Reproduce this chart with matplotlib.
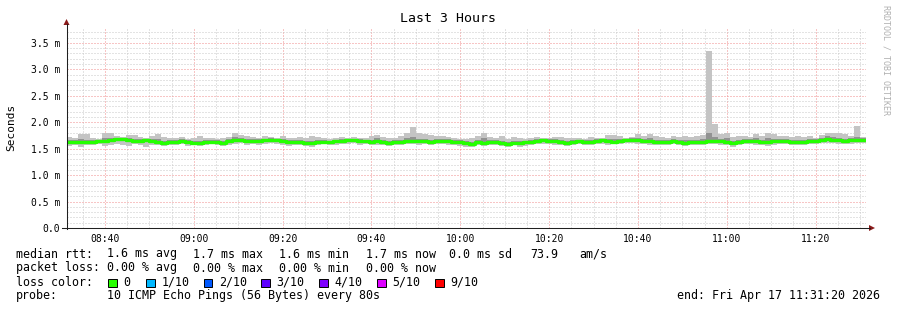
import matplotlib
matplotlib.use("Agg")
import numpy as np
import matplotlib.pyplot as plt
from matplotlib.patches import Rectangle, Polygon
from matplotlib.lines import Line2D
from matplotlib.ticker import FixedLocator, MultipleLocator, FuncFormatter

plt.rcParams['font.family'] = ['DejaVu Sans Mono']

# time in minutes since midnight, 80 s steps over 3 hours
t_start = 8 * 60 + 31 + 20 / 60.0
step_min = 80 / 60.0

# median rtt (ms) per step
median = [1.62, 1.62, 1.63, 1.62, 1.63, 1.64, 1.65, 1.66, 1.68,
          1.68, 1.66, 1.65, 1.64, 1.66, 1.65, 1.63, 1.61, 1.62,
          1.63, 1.64, 1.62, 1.61, 1.60, 1.62, 1.63, 1.62, 1.61,
          1.64, 1.66, 1.67, 1.65, 1.64, 1.65, 1.66, 1.67, 1.66,
          1.64, 1.62, 1.63, 1.62, 1.61, 1.60, 1.62, 1.63, 1.62,
          1.64, 1.65, 1.66, 1.66, 1.65, 1.64, 1.63, 1.64, 1.62,
          1.61, 1.62, 1.63, 1.64, 1.65, 1.64, 1.64, 1.63, 1.64,
          1.65, 1.64, 1.63, 1.62, 1.60, 1.59, 1.62, 1.61, 1.62,
          1.63, 1.61, 1.59, 1.61, 1.60, 1.62, 1.63, 1.64, 1.66,
          1.65, 1.64, 1.62, 1.61, 1.63, 1.64, 1.62, 1.63, 1.65,
          1.66, 1.64, 1.63, 1.65, 1.66, 1.67, 1.66, 1.65, 1.64,
          1.63, 1.62, 1.63, 1.64, 1.62, 1.61, 1.63, 1.62, 1.63,
          1.64, 1.65, 1.64, 1.63, 1.60, 1.62, 1.64, 1.65, 1.64,
          1.63, 1.62, 1.64, 1.65, 1.64, 1.63, 1.62, 1.63, 1.64,
          1.65, 1.67, 1.68, 1.67, 1.66, 1.65, 1.66, 1.67, 1.67]

# smoke: lowest ping, lower inner, upper inner, highest ping (ms)
ping_min = [1.55, 1.56, 1.54, 1.57, 1.56, 1.58, 1.55, 1.57, 1.59,
            1.56, 1.55, 1.58, 1.56, 1.54, 1.57, 1.56, 1.55, 1.57,
            1.56, 1.58, 1.55, 1.56, 1.55, 1.57, 1.58, 1.56, 1.55,
            1.57, 1.59, 1.60, 1.56, 1.58, 1.57, 1.59, 1.60, 1.58,
            1.57, 1.55, 1.56, 1.57, 1.55, 1.54, 1.56, 1.58, 1.56,
            1.57, 1.59, 1.58, 1.60, 1.57, 1.58, 1.56, 1.57, 1.56,
            1.55, 1.57, 1.56, 1.58, 1.59, 1.57, 1.58, 1.56, 1.58,
            1.59, 1.57, 1.56, 1.55, 1.54, 1.53, 1.56, 1.55, 1.57,
            1.56, 1.55, 1.53, 1.56, 1.54, 1.55, 1.57, 1.58, 1.59,
            1.58, 1.57, 1.56, 1.55, 1.57, 1.58, 1.56, 1.57, 1.58,
            1.59, 1.57, 1.58, 1.59, 1.60, 1.60, 1.59, 1.58, 1.57,
            1.57, 1.56, 1.57, 1.58, 1.56, 1.55, 1.57, 1.56, 1.57,
            1.58, 1.58, 1.57, 1.56, 1.54, 1.56, 1.58, 1.59, 1.57,
            1.56, 1.55, 1.57, 1.59, 1.58, 1.57, 1.56, 1.57, 1.58,
            1.59, 1.60, 1.61, 1.60, 1.59, 1.58, 1.59, 1.60, 1.60]

ping_lo = [1.59, 1.60, 1.60, 1.60, 1.61, 1.62, 1.62, 1.63, 1.64,
           1.65, 1.63, 1.62, 1.61, 1.62, 1.62, 1.60, 1.58, 1.60,
           1.60, 1.61, 1.59, 1.59, 1.58, 1.60, 1.61, 1.60, 1.58,
           1.62, 1.63, 1.64, 1.62, 1.62, 1.62, 1.63, 1.64, 1.63,
           1.61, 1.59, 1.60, 1.60, 1.58, 1.57, 1.59, 1.60, 1.59,
           1.61, 1.62, 1.63, 1.63, 1.62, 1.61, 1.60, 1.61, 1.59,
           1.58, 1.59, 1.60, 1.61, 1.62, 1.61, 1.61, 1.60, 1.61,
           1.62, 1.61, 1.60, 1.59, 1.57, 1.56, 1.59, 1.58, 1.59,
           1.60, 1.58, 1.56, 1.58, 1.57, 1.59, 1.60, 1.61, 1.63,
           1.62, 1.61, 1.59, 1.58, 1.60, 1.61, 1.59, 1.60, 1.62,
           1.63, 1.61, 1.60, 1.62, 1.63, 1.64, 1.63, 1.62, 1.61,
           1.60, 1.59, 1.60, 1.61, 1.59, 1.58, 1.60, 1.59, 1.60,
           1.61, 1.62, 1.61, 1.60, 1.57, 1.59, 1.61, 1.62, 1.61,
           1.60, 1.59, 1.61, 1.62, 1.61, 1.60, 1.59, 1.60, 1.61,
           1.62, 1.64, 1.65, 1.64, 1.63, 1.62, 1.63, 1.64, 1.64]

ping_hi = [1.66, 1.67, 1.68, 1.66, 1.66, 1.67, 1.70, 1.70, 1.71,
           1.71, 1.70, 1.69, 1.68, 1.69, 1.69, 1.68, 1.65, 1.66,
           1.66, 1.68, 1.66, 1.65, 1.64, 1.66, 1.67, 1.66, 1.65,
           1.68, 1.72, 1.71, 1.69, 1.68, 1.68, 1.69, 1.70, 1.69,
           1.69, 1.66, 1.67, 1.66, 1.65, 1.65, 1.66, 1.66, 1.65,
           1.67, 1.68, 1.69, 1.69, 1.68, 1.67, 1.67, 1.70, 1.66,
           1.65, 1.66, 1.67, 1.70, 1.72, 1.69, 1.69, 1.67, 1.68,
           1.69, 1.68, 1.67, 1.66, 1.64, 1.63, 1.66, 1.70, 1.66,
           1.67, 1.65, 1.63, 1.65, 1.64, 1.65, 1.67, 1.68, 1.69,
           1.68, 1.68, 1.66, 1.65, 1.66, 1.67, 1.66, 1.67, 1.68,
           1.69, 1.69, 1.68, 1.69, 1.69, 1.70, 1.71, 1.69, 1.70,
           1.67, 1.66, 1.67, 1.68, 1.66, 1.66, 1.67, 1.66, 1.68,
           1.80, 1.72, 1.69, 1.70, 1.65, 1.66, 1.68, 1.69, 1.70,
           1.67, 1.70, 1.69, 1.69, 1.68, 1.67, 1.66, 1.67, 1.68,
           1.69, 1.71, 1.73, 1.72, 1.71, 1.69, 1.70, 1.72, 1.71]

ping_max = [1.72, 1.71, 1.78, 1.77, 1.70, 1.69, 1.80, 1.79, 1.74,
            1.72, 1.76, 1.75, 1.72, 1.71, 1.73, 1.77, 1.72, 1.71,
            1.70, 1.72, 1.69, 1.70, 1.73, 1.70, 1.71, 1.69, 1.70,
            1.72, 1.80, 1.75, 1.73, 1.72, 1.71, 1.73, 1.72, 1.71,
            1.74, 1.70, 1.71, 1.72, 1.70, 1.73, 1.72, 1.70, 1.69,
            1.71, 1.72, 1.71, 1.72, 1.70, 1.71, 1.74, 1.75, 1.72,
            1.70, 1.71, 1.73, 1.80, 1.90, 1.80, 1.78, 1.75, 1.74,
            1.73, 1.72, 1.71, 1.69, 1.68, 1.70, 1.73, 1.80, 1.72,
            1.70, 1.74, 1.69, 1.72, 1.71, 1.68, 1.70, 1.72, 1.71,
            1.70, 1.72, 1.72, 1.71, 1.70, 1.71, 1.69, 1.72, 1.70,
            1.71, 1.76, 1.76, 1.73, 1.71, 1.72, 1.78, 1.73, 1.77,
            1.73, 1.72, 1.71, 1.73, 1.72, 1.74, 1.72, 1.73, 1.76,
            3.35, 1.97, 1.78, 1.80, 1.72, 1.73, 1.74, 1.72, 1.78,
            1.73, 1.80, 1.77, 1.74, 1.73, 1.72, 1.73, 1.72, 1.74,
            1.71, 1.75, 1.80, 1.80, 1.80, 1.77, 1.74, 1.93, 1.72]

x_ticks = [520, 540, 560, 580, 600, 620, 640, 660, 680]
y_ticks = [0.0, 0.5, 1.0, 1.5, 2.0, 2.5, 3.0, 3.5]

loss_labels = ["0", "1/10", "2/10", "3/10", "4/10", "5/10", "9/10"]
loss_colors = ["#26ff00", "#00b8ff", "#0059ff", "#5e00ff", "#7e00ff", "#dd00ff", "#ff0000"]

W, H = 897, 310
def fx(px):
    return px / W
def fy(py):
    return 1 - py / H

fig = plt.figure(figsize=(W / 100, H / 100), dpi=100)
fig.patch.set_facecolor("white")
ax = fig.add_axes([fx(66.5), fy(228), (866 - 66.5) / W, 200 / H])

n = len(median)
edges = t_start + np.arange(n + 1) * step_min

def ext(a):
    a = np.asarray(a)
    return np.append(a, a[-1])

# smoke
ax.fill_between(edges, ext(ping_min), ext(ping_max), step="post", color="#c4c4c4", lw=0, zorder=2)
ax.fill_between(edges, ext(ping_lo), ext(ping_hi), step="post", color="#929292", lw=0, zorder=3)
ax.step(edges, ext(median), where="post", color="#26ff00", lw=2.4, zorder=4)

ax.set_xlim(t_start, t_start + 180)
ax.set_ylim(0, 3.78)

ax.xaxis.set_major_locator(FixedLocator(x_ticks))
ax.xaxis.set_minor_locator(MultipleLocator(5))
ax.yaxis.set_major_locator(FixedLocator(y_ticks))
ax.yaxis.set_minor_locator(MultipleLocator(0.1))
ax.xaxis.set_major_formatter(FuncFormatter(lambda v, p: "%02d:%02d" % (int(v // 60), int(round(v % 60)))))
ax.yaxis.set_major_formatter(FuncFormatter(lambda v, p: "0.0" if v == 0 else "%.1f m" % v))

ax.set_axisbelow(True)
ax.grid(which="minor", color="#c8c8c8", ls=(0, (1, 2)), lw=0.72)
ax.grid(which="major", color="#f08c8c", ls=(0, (1, 2)), lw=0.72)
ax.tick_params(which="both", length=0)
ax.tick_params(axis="x", pad=4, labelsize=7)
ax.tick_params(axis="y", pad=4.5, labelsize=7)
for s in ax.spines.values():
    s.set_visible(False)

# axes lines with arrows
fig.add_artist(Line2D([fx(62), fx(870)], [fy(228), fy(228)], color="#202020", lw=0.75))
fig.add_artist(Line2D([fx(66.5), fx(66.5)], [fy(228.5), fy(24)], color="#202020", lw=0.75))
fig.add_artist(Polygon([(fx(66.5), fy(19)), (fx(63.5), fy(25)), (fx(69.5), fy(25))],
                       closed=True, transform=fig.transFigure, color="#8b1a1a", lw=0))
fig.add_artist(Polygon([(fx(875), fy(228)), (fx(869), fy(225)), (fx(869), fy(231))],
                       closed=True, transform=fig.transFigure, color="#8b1a1a", lw=0))

fig.text(fx(448), fy(19), "Last 3 Hours", ha="center", va="center", fontsize=9.5)
fig.text(fx(11), fy(127), "Seconds", rotation=90, ha="center", va="center", fontsize=8)
fig.text(fx(886), fy(60), "RRDTOOL / TOBI OETIKER", rotation=270, ha="center", va="center",
         fontsize=6, color="#b0b0b0")

fs = 8.4
rows = [254, 268, 282, 296]
fig.text(fx(16), fy(rows[0]), "median rtt:", va="center", fontsize=fs)
for xp, s in zip([107, 193, 279, 366, 449, 530, 579],
                 ["1.6 ms avg", "1.7 ms max", "1.6 ms min", "1.7 ms now", "0.0 ms sd", "73.9", "am/s"]):
    fig.text(fx(xp), fy(rows[0]), s, va="center", fontsize=fs)

fig.text(fx(16), fy(rows[1]), "packet loss:", va="center", fontsize=fs)
for xp, s in zip([107, 193, 279, 366],
                 ["0.00 % avg", "0.00 % max", "0.00 % min", "0.00 % now"]):
    fig.text(fx(xp), fy(rows[1]), s, va="center", fontsize=fs)

fig.text(fx(16), fy(rows[2]), "loss color:", va="center", fontsize=fs)
sq_x = [108, 146, 203.5, 261, 319, 377, 435]
for xp, lab, col in zip(sq_x, loss_labels, loss_colors):
    fig.add_artist(Rectangle((fx(xp), fy(287)), 8.5 / W, 8.5 / H, transform=fig.transFigure,
                             facecolor=col, edgecolor="black", lw=0.7))
    fig.text(fx(xp + 15.5), fy(rows[2]), lab, va="center", fontsize=fs)

fig.text(fx(16), fy(rows[3]), "probe:", va="center", fontsize=fs)
fig.text(fx(107), fy(rows[3]), "10 ICMP Echo Pings (56 Bytes) every 80s", va="center", fontsize=fs)
fig.text(fx(880), fy(rows[3]), "end: Fri Apr 17 11:31:20 2026", ha="right", va="center", fontsize=fs)

fig.savefig("out.png", dpi=100, facecolor="white")
